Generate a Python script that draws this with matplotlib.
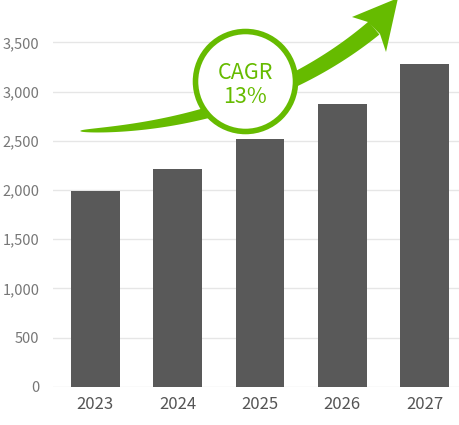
import numpy as np
import matplotlib
matplotlib.use("Agg")
import matplotlib.pyplot as plt
from matplotlib.patches import Polygon, Circle

plt.rcParams["font.family"] = ["Noto Sans CJK KR", "DejaVu Sans"]

years = ["2023", "2024", "2025", "2026", "2027"]
values = [1990, 2210, 2520, 2870, 3280]
y_ticks = [0, 500, 1000, 1500, 2000, 2500, 3000, 3500]
cagr_label = "CAGR\n13%"

bar_color = "#595959"
green = "#66bb00"

fig = plt.figure(figsize=(4.6, 4.25), dpi=100)
ax = fig.add_axes([53.3 / 460, 38.3 / 425, 406.7 / 460, 386.7 / 425])

x = np.arange(len(years))
ax.bar(x, values, width=0.59, color=bar_color, zorder=2)
ax.set_xlim(-0.51, 4.43)
ax.set_ylim(0, 3930)
ax.set_yticks(y_ticks)
ax.set_yticklabels([f"{v:,}" for v in y_ticks], fontsize=10.5, color="#777777")
ax.set_xticks(x)
ax.set_xticklabels(years, fontsize=12, color="#555555")
ax.tick_params(axis="y", length=0, pad=10)
ax.tick_params(axis="x", length=0, pad=7)
ax.grid(axis="y", color="#e6e6e6", linewidth=1, zorder=0)
for s in ax.spines.values():
    s.set_visible(False)

# overlay in pixel coordinates for the CAGR arrow
ov = fig.add_axes([0, 0, 1, 1], facecolor="none")
ov.set_xlim(0, 460)
ov.set_ylim(425, 0)
ov.axis("off")

t = np.linspace(0, 1, 200)
P = np.array([[80, 131], [200, 128], [302, 88], [374, 28]], dtype=float)
c = ((1 - t) ** 3)[:, None] * P[0] + (3 * (1 - t) ** 2 * t)[:, None] * P[1] \
    + (3 * (1 - t) * t ** 2)[:, None] * P[2] + (t ** 3)[:, None] * P[3]
d = np.gradient(c, axis=0)
d /= np.linalg.norm(d, axis=1)[:, None]
n = np.stack([-d[:, 1], d[:, 0]], axis=1)
w = 17 * t ** 0.45 / 2
upper = c + n * w[:, None]
lower = c - n * w[:, None]
shaft = np.vstack([upper, lower[::-1]])
ov.add_patch(Polygon(shaft, closed=True, color=green, lw=0, zorder=3))

head = np.array([[368, 22], [352, 17], [398, -2], [386, 52], [380, 34]])
ov.add_patch(Polygon(head, closed=True, color=green, lw=0, zorder=3))

ov.add_patch(Circle((245.5, 81.5), 50, facecolor="white", edgecolor=green, lw=4, zorder=4))
ov.text(245.5, 85, cagr_label, ha="center", va="center", fontsize=15.5,
        color=green, linespacing=1.1, zorder=5)

fig.savefig("out.png", dpi=100)
